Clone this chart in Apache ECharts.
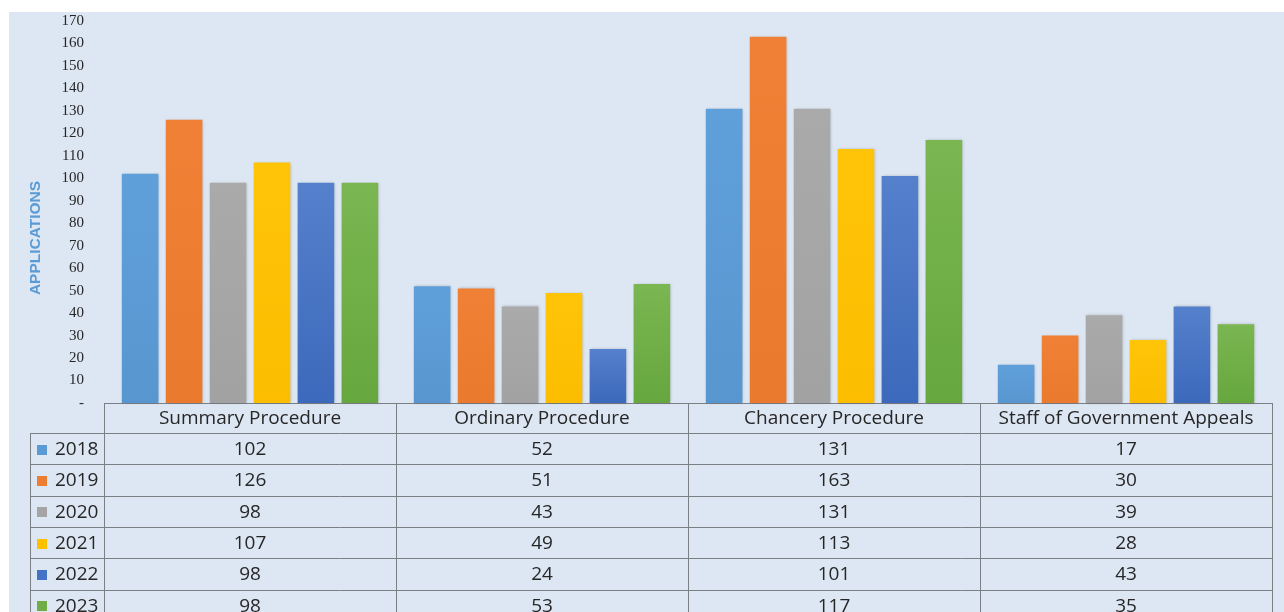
<!DOCTYPE html>
<html>
<head>
<meta charset="utf-8">
<script src="https://cdn.jsdelivr.net/npm/echarts@6/dist/echarts.min.js"></script>
<style>
html,body{margin:0;padding:0;background:#ffffff;}
#chart{width:1284px;height:612px;}
</style>
</head>
<body>
<div id="chart"></div>
<script>
// ---- data ----
const categories = ['Summary Procedure', 'Ordinary Procedure', 'Chancery Procedure', 'Staff of Government Appeals'];
const years = ['2018', '2019', '2020', '2021', '2022', '2023'];
const v2018 = [102, 52, 131, 17];
const v2019 = [126, 51, 163, 30];
const v2020 = [98, 43, 131, 39];
const v2021 = [107, 49, 113, 28];
const v2022 = [98, 24, 101, 43];
const v2023 = [98, 53, 117, 35];
const seriesValues = [v2018, v2019, v2020, v2021, v2022, v2023];
const yTicks = [0, 10, 20, 30, 40, 50, 60, 70, 80, 90, 100, 110, 120, 130, 140, 150, 160, 170];

// ---- styles ----
const baseColors = ['#5b9bd5', '#ed7d31', '#a5a5a5', '#ffc000', '#4472c4', '#70ad47'];
const topColors  = ['#60a0da', '#ef8035', '#aaaaaa', '#ffc408', '#5580cc', '#7ab651'];
const botColors  = ['#5896d0', '#ea7a2d', '#a2a2a2', '#fcbd00', '#3d69bc', '#67a73f'];
const bgColor = '#dde7f3';
const lineColor = '#7a7f86';
const textColor = '#262626';
const tableFont = '"Open Sans", sans-serif';

// ---- layout ----
const W = 1284, H = 612;
const plotLeft = 104, plotRight = 1272, plotTop = 21, plotBottom = 403;
const headerH = 30, rowH = 31.3;
const tableLeft = 30;
const colW = (plotRight - plotLeft) / categories.length;

const chart = echarts.init(document.getElementById('chart'), null, {renderer: 'canvas'});

const series = years.map((y, i) => ({
  name: y,
  type: 'bar',
  data: seriesValues[i],
  barCategoryGap: '12.2%',
  barGap: '20%',
  itemStyle: {
    color: new echarts.graphic.LinearGradient(0, 0, 0, 1, [
      {offset: 0, color: topColors[i]},
      {offset: 1, color: botColors[i]}
    ]),
    shadowColor: 'rgba(0,0,0,0.22)',
    shadowBlur: 3,
    shadowOffsetX: 1,
    shadowOffsetY: 0
  },
  emphasis: {disabled: true}
}));

// ---- table graphics ----
const g = [];
g.push({type: 'rect', z: -10, silent: true, shape: {x: 9, y: 12, width: W - 9, height: H - 12}, style: {fill: bgColor}});
g.push({type: 'text', x: 36, y: 238, rotation: Math.PI / 2, silent: true,
  style: {text: 'APPLICATIONS', fill: '#5b9bd5', font: 'bold 15.5px "Liberation Sans", Arial, sans-serif', align: 'center', verticalAlign: 'middle'}});

const tableTop = plotBottom;
const rowsTop = tableTop + headerH;
const tableBottom = H + 20;
// horizontal lines
g.push({type: 'line', silent: true, shape: {x1: plotLeft, y1: tableTop + 0.5, x2: plotRight, y2: tableTop + 0.5}, style: {stroke: lineColor, lineWidth: 1}});
for (let r = 0; r < years.length; r++) {
  const y = Math.round(rowsTop + r * rowH) + 0.5;
  g.push({type: 'line', silent: true, shape: {x1: tableLeft, y1: y, x2: plotRight, y2: y}, style: {stroke: lineColor, lineWidth: 1}});
}
// vertical lines
g.push({type: 'line', silent: true, shape: {x1: tableLeft + 0.5, y1: rowsTop, x2: tableLeft + 0.5, y2: tableBottom}, style: {stroke: lineColor, lineWidth: 1}});
for (let c = 0; c <= categories.length; c++) {
  const x = Math.round(plotLeft + c * colW) + 0.5;
  g.push({type: 'line', silent: true, shape: {x1: x, y1: tableTop, x2: x, y2: tableBottom}, style: {stroke: lineColor, lineWidth: 1}});
}
// header texts
categories.forEach((cat, c) => {
  g.push({type: 'text', silent: true, x: plotLeft + (c + 0.5) * colW, y: tableTop + headerH / 2 + 1,
    style: {text: cat, fill: textColor, font: '19px ' + tableFont, align: 'center', verticalAlign: 'middle'}});
});
// rows
years.forEach((yr, r) => {
  const cy = rowsTop + (r + 0.5) * rowH + 1;
  g.push({type: 'rect', silent: true, shape: {x: 37, y: Math.round(cy - 5), width: 10, height: 10}, style: {fill: baseColors[r]}});
  g.push({type: 'text', silent: true, x: 55, y: cy, style: {text: yr, fill: textColor, font: '19px ' + tableFont, align: 'left', verticalAlign: 'middle'}});
  categories.forEach((cat, c) => {
    g.push({type: 'text', silent: true, x: plotLeft + (c + 0.5) * colW, y: cy,
      style: {text: String(seriesValues[r][c]), fill: textColor, font: '19px ' + tableFont, align: 'center', verticalAlign: 'middle'}});
  });
});

chart.setOption({
  animation: false,
  backgroundColor: '#ffffff',
  grid: {left: plotLeft, right: W - plotRight, top: plotTop, bottom: H - plotBottom, containLabel: false},
  xAxis: {
    type: 'category',
    data: categories,
    axisLine: {show: false},
    axisTick: {show: false},
    axisLabel: {show: false},
    splitLine: {show: false}
  },
  yAxis: {
    type: 'value',
    min: yTicks[0],
    max: yTicks[yTicks.length - 1],
    interval: 10,
    axisLine: {show: false},
    axisTick: {show: false},
    splitLine: {show: false},
    axisLabel: {
      margin: 20,
      color: '#262626',
      fontFamily: '"Liberation Serif", serif',
      fontSize: 15,
      formatter: v => (v === 0 ? '-' : String(v))
    }
  },
  graphic: {elements: g},
  series: series
});
</script>
</body>
</html>
